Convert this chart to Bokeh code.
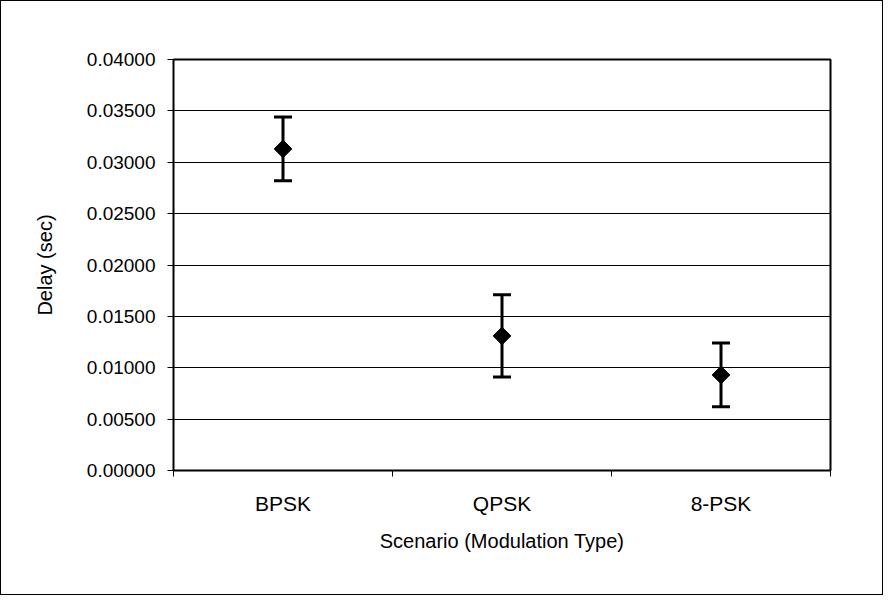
import numpy as np
from bokeh.plotting import figure
from bokeh.models import (ColumnDataSource, FixedTicker, NumeralTickFormatter,
                          Whisker, TeeHead, Range1d)
from bokeh.embed import file_html
from bokeh.resources import INLINE

# ---- data ----
categories = ["BPSK", "QPSK", "8-PSK"]
delay_mean = [0.0313, 0.0131, 0.0093]
delay_err = [0.0031, 0.0040, 0.0031]
y_ticks = [0.0, 0.005, 0.01, 0.015, 0.02, 0.025, 0.03, 0.035, 0.04]

FONT = "Liberation Sans"

xpos = [i + 0.5 for i in range(len(categories))]
src = ColumnDataSource(dict(
    x=xpos,
    y=delay_mean,
    upper=[m + e for m, e in zip(delay_mean, delay_err)],
    lower=[m - e for m, e in zip(delay_mean, delay_err)],
))

p = figure(width=883, height=595, output_backend="svg", toolbar_location=None,
           x_range=Range1d(0, len(categories)), y_range=Range1d(0, 0.04),
           min_border_left=172, min_border_top=58, min_border_right=54,
           min_border_bottom=126)
p.styles = {"border": "1px solid black"}

p.background_fill_color = "white"
p.border_fill_color = "white"
p.outline_line_color = "black"
p.outline_line_width = 2

# grid
p.xgrid.grid_line_color = None
p.ygrid.grid_line_color = "black"
p.ygrid.grid_line_width = 1
p.ygrid.ticker = FixedTicker(ticks=y_ticks)

# y axis
p.yaxis.ticker = FixedTicker(ticks=y_ticks)
p.yaxis.formatter = NumeralTickFormatter(format="0.00000")
p.yaxis.axis_label = "Delay (sec)"
p.yaxis.axis_line_color = "black"
p.yaxis.major_tick_line_color = "black"
p.yaxis.major_tick_out = 6
p.yaxis.major_tick_in = 0
p.yaxis.minor_tick_line_color = None
p.yaxis.major_label_text_font = FONT
p.yaxis.major_label_text_font_size = "19px"
p.yaxis.major_label_text_color = "black"
p.yaxis.major_label_standoff = 12
p.yaxis.axis_label_text_font = FONT
p.yaxis.axis_label_text_font_size = "20px"
p.yaxis.axis_label_text_font_style = "normal"
p.yaxis.axis_label_text_color = "black"
p.yaxis.axis_label_standoff = 28

# x axis
p.xaxis.ticker = FixedTicker(ticks=xpos, minor_ticks=list(range(len(categories) + 1)))
p.xaxis.major_label_overrides = {x: c for x, c in zip(xpos, categories)}
p.xaxis.axis_label = "Scenario (Modulation Type)"
p.xaxis.axis_line_color = "black"
p.xaxis.major_tick_line_color = None
p.xaxis.minor_tick_line_color = "black"
p.xaxis.minor_tick_out = 6
p.xaxis.minor_tick_in = 0
p.xaxis.major_label_text_font = FONT
p.xaxis.major_label_text_font_size = "21px"
p.xaxis.major_label_text_color = "black"
p.xaxis.major_label_standoff = 15
p.xaxis.axis_label_text_font = FONT
p.xaxis.axis_label_text_font_size = "20px"
p.xaxis.axis_label_text_font_style = "normal"
p.xaxis.axis_label_text_color = "black"
p.xaxis.axis_label_standoff = 12

# error bars
w = Whisker(source=src, base="x", upper="upper", lower="lower",
            line_color="black", line_width=3,
            upper_head=TeeHead(size=18, line_width=3, line_color="black"),
            lower_head=TeeHead(size=18, line_width=3, line_color="black"))
p.add_layout(w)

# diamonds
p.scatter("x", "y", source=src, marker="square", angle=np.pi / 4, size=12.5,
          fill_color="black", line_color="black")

open("out.html", "w").write(file_html(p, INLINE))
